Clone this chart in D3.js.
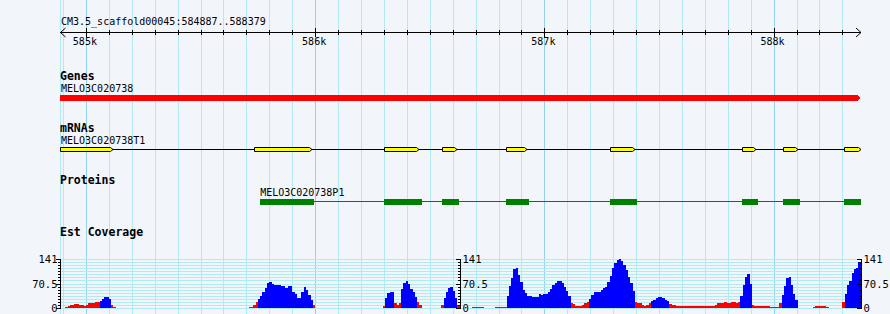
<!DOCTYPE html>
<html><head><meta charset="utf-8">
<script src="https://cdn.jsdelivr.net/npm/d3@7"></script>
<style>
body{margin:0;background:#f2f5fa}
text{font-family:"DejaVu Sans Mono",monospace;fill:#000}
</style>
</head><body><svg id="c" width="890" height="314"></svg>
<script>
// ---------- data ----------
const refName = "CM3.5_scaffold00045";
const regionStart = 584887;
const regionEnd = 588379;
const rulerMajor = [585000, 586000, 587000, 588000];
const rulerLabels = ["585k", "586k", "587k", "588k"];

const trackTitles = ["Genes", "mRNAs", "Proteins", "Est Coverage"];

const geneName = "MELO3C020738";
const geneStart = 584887;
const geneEnd = 588379;

const mrnaName = "MELO3C020738T1";
const exonStarts = [584887, 585734, 586301, 586554, 586834, 587288, 587860, 588039, 588305];
const exonEnds   = [585118, 585987, 586454, 586620, 586925, 587397, 587925, 588108, 588379];

const proteinName = "MELO3C020738P1";
const cdsStarts = [585760, 586301, 586554, 586834, 587288, 587860, 588039, 588305];
const cdsEnds   = [585996, 586467, 586629, 586934, 587406, 587934, 588117, 588379];

// EST coverage, 10 bp bins, in runs
const covBinSize = 10;
const covMax = 141;
const covLabels = ["0", "70.5", "141"];
const covLabelValues = [0, 70.5, 141];
const covPivot = 18; // bins at or above are drawn blue, below red
const covSegStart = [584910, 585710, 586295, 586550, 586685, 586785, 588170, 588300];
const covSegValues = [
  [4,6,8,9,11,12,10,8,7,9,13,14,15,16,17,21,26,32,31,25,10,3],
  [2,3,8,16,26,35,47,58,71,74,68,65,67,67,63,62,57,63,62,46,40,28,28,45,61,52,38,22,10],
  [6,30,44,46,45,13,10,14,55,73,79,70,56,45,32,17,8],
  [9,28,45,58,60,50,28,10],
  [2,2,2,2,2],
  [2,2,2,2,2,
   35,62,85,112,115,95,75,52,42,35,34,31,32,33,39,38,39,39,46,54,65,71,77,78,73,60,48,35,
   15,11,7,5,7,10,13,16,
   25,37,46,47,46,52,57,61,75,92,115,130,139,141,135,123,108,90,72,50,
   16,15,14,8,6,8,14,
   20,24,28,33,31,28,24,19,
   12,10,8,7,7,6,6,6,6,6,6,6,6,6,5,5,6,6,6,7,9,13,15,13,16,15,15,16,16,15,17,
   35,65,90,97,70,
   10,6,6,6,6,6,5,5,4,3,3,4,14,
   38,62,85,88,67,40,22],
  [4,6,7,7,7,6,4],
  [16,40,65,78,100,112,115,133]
];

// ---------- drawing ----------
const W = 890, H = 314;
const svg = d3.select("#c");
svg.append("rect").attr("width", W).attr("height", H).attr("fill", "#f2f5fa");

const x = d3.scaleLinear().domain([regionStart, regionEnd]).range([60, 860.5]);
const px = v => Math.round(x(v)) + 0.5;
const L = x.range()[0], R = x.range()[1];

// vertical grid lines
const minorTicks = d3.range(Math.ceil(regionStart / 100) * 100, regionEnd, 100);
const grid = svg.append("g").attr("shape-rendering", "crispEdges");
grid.append("line").attr("x1", px(regionStart)).attr("x2", px(regionStart))
  .attr("y1", 0).attr("y2", H).attr("stroke", "#b0eaf2");
grid.selectAll("line.v").data(minorTicks).join("line").attr("class", "v")
  .attr("x1", px).attr("x2", px).attr("y1", 0).attr("y2", H)
  .attr("stroke", d => d % 1000 === 0 ? "#92d2ee" : "#b0eaf2");

// ruler
const ruler = svg.append("g").attr("shape-rendering", "crispEdges");
ruler.append("text").attr("x", 61).attr("y", 25).attr("font-size", "10px")
  .text(`${refName}:${regionStart}..${regionEnd}`);
const ry = 32.5;
ruler.append("line").attr("x1", L).attr("x2", R + 0.5).attr("y1", ry).attr("y2", ry).attr("stroke", "#000");
svg.append("path").attr("d", `M${L + 5.5},${ry - 4.5} L${L + 0.5},${ry} L${L + 5.5},${ry + 4.5}`)
  .attr("fill", "none").attr("stroke", "#000");
svg.append("path").attr("d", `M${R - 4.5},${ry - 4.5} L${R + 0.5},${ry} L${R - 4.5},${ry + 4.5}`)
  .attr("fill", "none").attr("stroke", "#000");
ruler.selectAll("line.mi").data(minorTicks.filter(d => d % 1000 !== 0 && x(d) > L + 6)).join("line")
  .attr("class", "mi").attr("x1", px).attr("x2", px).attr("y1", 30).attr("y2", 35).attr("stroke", "#000");
ruler.selectAll("line.ma").data(rulerMajor).join("line")
  .attr("class", "ma").attr("x1", px).attr("x2", px).attr("y1", 28).attr("y2", 37).attr("stroke", "#000");
svg.selectAll("text.rl").data(rulerMajor).join("text").attr("class", "rl")
  .attr("x", d => x(d) - 1).attr("y", 45).attr("text-anchor", "middle").attr("font-size", "10px")
  .text((d, i) => rulerLabels[i]);

// track titles
const titleY = [80, 132, 184, 236];
svg.selectAll("text.tt").data(trackTitles).join("text").attr("class", "tt")
  .attr("x", 60).attr("y", (d, i) => titleY[i]).attr("font-size", "11.5px").attr("font-weight", "bold")
  .text(d => d);

// gene
svg.append("text").attr("x", 61).attr("y", 92).attr("font-size", "10px").text(geneName);
{
  const x0 = x(geneStart), x1 = x(geneEnd);
  svg.append("path").attr("d", `M${x0},95 H${x1 - 3} L${x1},98 L${x1 - 3},101 H${x0} Z`)
    .attr("fill", "#ff0000").attr("shape-rendering", "crispEdges");
}

// mRNA
svg.append("text").attr("x", 61).attr("y", 144).attr("font-size", "10px").text(mrnaName);
svg.append("line").attr("x1", x(exonStarts[0])).attr("x2", x(exonEnds[exonEnds.length - 1]))
  .attr("y1", 149.5).attr("y2", 149.5).attr("stroke", "#000").attr("shape-rendering", "crispEdges");
svg.selectAll("path.ex").data(exonStarts).join("path").attr("class", "ex")
  .attr("d", (d, i) => {
    const x0 = Math.round(x(d)) + 0.5, x1 = Math.round(x(exonEnds[i]));
    return `M${x0},147.5 H${x1 - 2.5} L${x1},149.5 L${x1 - 2.5},151.5 H${x0} Z`;
  })
  .attr("fill", "#ffff00").attr("stroke", "#000").attr("stroke-width", 1);

// protein
svg.append("text").attr("x", x(cdsStarts[0])).attr("y", 196).attr("font-size", "10px").text(proteinName);
svg.append("line").attr("x1", x(cdsStarts[0])).attr("x2", x(cdsEnds[cdsEnds.length - 1]))
  .attr("y1", 201.5).attr("y2", 201.5).attr("stroke", "#008000").attr("shape-rendering", "crispEdges");
svg.selectAll("rect.cds").data(cdsStarts).join("rect").attr("class", "cds")
  .attr("x", d => x(d)).attr("width", (d, i) => x(cdsEnds[i]) - x(d))
  .attr("y", 199).attr("height", 6).attr("fill", "#008000").attr("shape-rendering", "crispEdges");

// coverage
const y = d3.scaleLinear().domain([0, covMax]).range([308, 259]);
const covTicks = d3.range(0, 17).map(i => i * covMax / 16);
const cg = svg.append("g").attr("shape-rendering", "crispEdges");
cg.selectAll("line.h").data(covTicks).join("line").attr("class", "h")
  .attr("x1", L).attr("x2", R + 1).attr("y1", d => Math.round(y(d)) + 0.5).attr("y2", d => Math.round(y(d)) + 0.5)
  .attr("stroke", "#b0eaf2");

const bins = [];
covSegStart.forEach((s, si) => covSegValues[si].forEach((v, k) => {
  const b0 = s + k * covBinSize, b1 = Math.min(b0 + covBinSize, regionEnd + 8);
  bins.push({ b0, b1, v });
}));
cg.selectAll("rect.bin").data(bins).join("rect").attr("class", "bin")
  .attr("x", d => x(d.b0)).attr("width", d => x(d.b1) - x(d.b0))
  .attr("y", d => y(d.v)).attr("height", d => y(0) - y(d.v))
  .attr("fill", d => d.v >= covPivot ? "#0000ff" : "#ff0000");

// coverage axes (left, middle, right)
const axisXs = [L, (L + R) / 2, R];
axisXs.forEach((ax, ai) => {
  const a = Math.round(ax) + 0.5;
  const g = svg.append("g").attr("shape-rendering", "crispEdges");
  g.append("line").attr("x1", a).attr("x2", a).attr("y1", Math.round(y(covMax))).attr("y2", Math.round(y(0)) + 1).attr("stroke", "#000");
  g.selectAll("line.t").data(covTicks).join("line").attr("class", "t")
    .attr("x1", d => covLabelValues.includes(d) ? a - 5 : a - 3).attr("x2", a)
    .attr("y1", d => Math.round(y(d)) + 0.5).attr("y2", d => Math.round(y(d)) + 0.5).attr("stroke", "#000");
  svg.selectAll(null).data(covLabelValues).join("text")
    .attr("x", ai === 0 ? a - 3 : a + 2).attr("y", d => y(d) + 4)
    .attr("text-anchor", ai === 0 ? "end" : "start").attr("font-size", "10.5px")
    .text((d, i) => covLabels[i]);
});
</script>
</body></html>
